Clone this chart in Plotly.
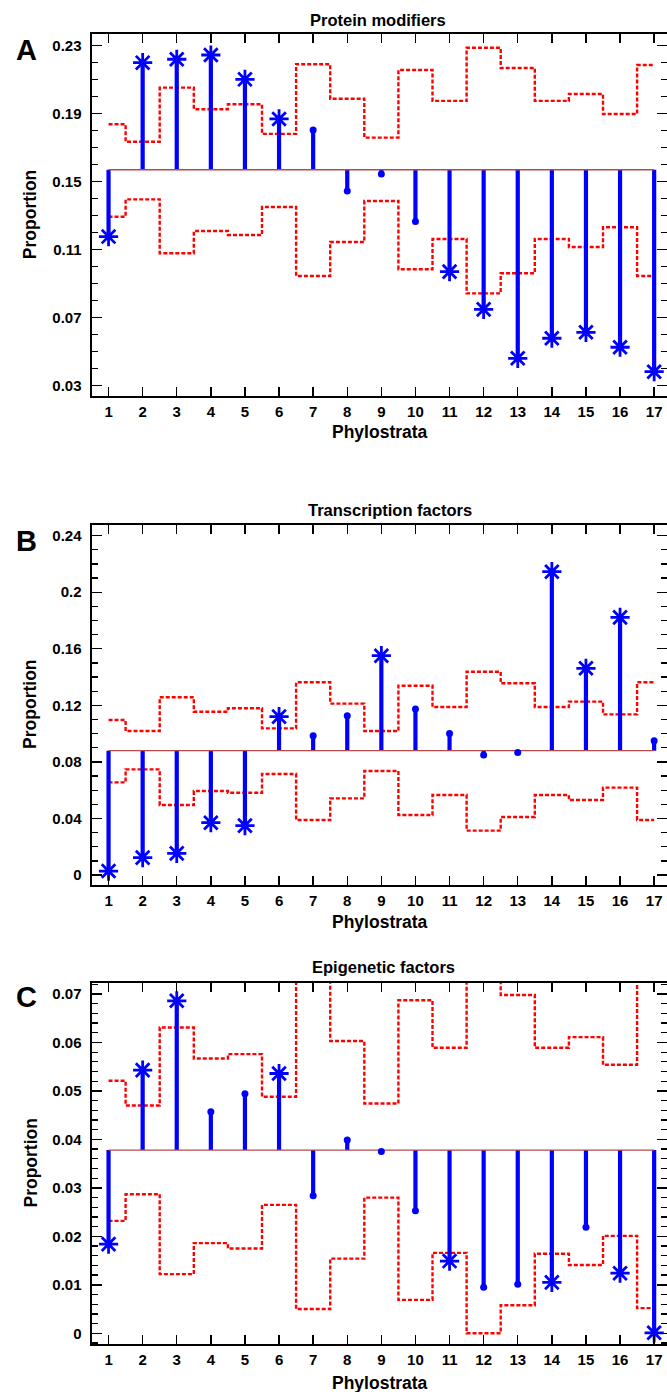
import plotly.graph_objects as go

# ---------------- data ----------------
phylostrata = list(range(1, 18))
x_tick_labels = [str(i) for i in phylostrata]

# Panel A - Protein modifiers
pm_title = "Protein modifiers"
pm_baseline = 0.157
pm_values = [0.1177, 0.2200, 0.2220, 0.2245, 0.2102, 0.1869, 0.1804, 0.1445, 0.1545,
             0.1265, 0.0971, 0.0749, 0.0461, 0.0579, 0.0614, 0.0526, 0.0382]
pm_upper = [0.1838, 0.1735, 0.2053, 0.1926, 0.1955, 0.1781, 0.2191, 0.1988, 0.1759,
            0.2157, 0.1975, 0.2288, 0.2169, 0.1975, 0.2016, 0.1898, 0.2186]
pm_lower = [0.1294, 0.1396, 0.1079, 0.1210, 0.1186, 0.1351, 0.0945, 0.1145, 0.1386,
            0.0985, 0.1163, 0.0843, 0.0961, 0.1163, 0.1116, 0.1232, 0.0945]
pm_yticks = [0.03, 0.07, 0.11, 0.15, 0.19, 0.23]
pm_yticklabels = ["0.03", "0.07", "0.11", "0.15", "0.19", "0.23"]

# Panel B - Transcription factors
tf_title = "Transcription factors"
tf_baseline = 0.0879
tf_values = [0.0028, 0.0123, 0.0153, 0.0370, 0.0349, 0.1120, 0.0985, 0.1127, 0.1551,
             0.1174, 0.1000, 0.0849, 0.0866, 0.2145, 0.1462, 0.1822, 0.0950]
tf_upper = [0.1096, 0.1018, 0.1257, 0.1155, 0.1179, 0.1037, 0.1363, 0.1212, 0.1018,
            0.1339, 0.1188, 0.1438, 0.1356, 0.1188, 0.1226, 0.1136, 0.1363]
tf_lower = [0.0655, 0.0747, 0.0495, 0.0594, 0.0582, 0.0714, 0.0389, 0.0542, 0.0736,
            0.0424, 0.0566, 0.0314, 0.0410, 0.0566, 0.0530, 0.0618, 0.0389]
tf_yticks = [0, 0.04, 0.08, 0.12, 0.16, 0.2, 0.24]
tf_yticklabels = ["0", "0.04", "0.08", "0.12", "0.16", "0.2", "0.24"]

# Panel C - Epigenetic factors
ep_title = "Epigenetic factors"
ep_baseline = 0.0378
ep_values = [0.0184, 0.0543, 0.0686, 0.0457, 0.0494, 0.0536, 0.0284, 0.0399, 0.0375,
             0.0253, 0.0149, 0.0095, 0.0101, 0.0105, 0.0219, 0.0124, 0.0001]
ep_upper = [0.0521, 0.0470, 0.0631, 0.0567, 0.0576, 0.0488, 0.0800, 0.0603, 0.0474,
            0.0687, 0.0589, 0.0800, 0.0698, 0.0589, 0.0611, 0.0554, 0.0800]
ep_lower = [0.0232, 0.0287, 0.0122, 0.0186, 0.0175, 0.0265, 0.0050, 0.0154, 0.0280,
            0.0069, 0.0166, 0.0000, 0.0058, 0.0164, 0.0141, 0.0201, 0.0052]
ep_yticks = [0, 0.01, 0.02, 0.03, 0.04, 0.05, 0.06, 0.07]
ep_yticklabels = ["0", "0.01", "0.02", "0.03", "0.04", "0.05", "0.06", "0.07"]

# ---------------- styling ----------------
W, H = 667, 1392
FONT = "Liberation Sans, Arial, sans-serif"
BLUE = "#0000FF"
RED = "#FF0000"
BASE = "#B24A4A"

panels = [
    dict(title=pm_title, letter="A", base=pm_baseline, vals=pm_values, up=pm_upper, lo=pm_lower,
         yt=pm_yticks, ytl=pm_yticklabels, yrange=[0.02392, 0.23669], minor=0.01, minor0=0.03,
         top=34.3, bottom=396.0, title_x=378, title_y=20, xlab_y=432, letter_y=49.7),
    dict(title=tf_title, letter="B", base=tf_baseline, vals=tf_values, up=tf_upper, lo=tf_lower,
         yt=tf_yticks, ytl=tf_yticklabels, yrange=[-0.00728, 0.2479], minor=0.01, minor0=0.0,
         top=524.5, bottom=885.3, title_x=390, title_y=510, xlab_y=922, letter_y=540.5),
    dict(title=ep_title, letter="C", base=ep_baseline, vals=ep_values, up=ep_upper, lo=ep_lower,
         yt=ep_yticks, ytl=ep_yticklabels, yrange=[-0.00227, 0.07233], minor=0.002, minor0=0.0,
         top=982.7, bottom=1344.3, title_x=383, title_y=967, xlab_y=1383, letter_y=997.5),
]

LEFT = 91.5
XRANGE = [0.5, 0.5 + (W - LEFT) / 34.1]

fig = go.Figure()
layout = dict(width=W, height=H, margin=dict(l=0, r=0, t=0, b=0),
              paper_bgcolor="white", plot_bgcolor="white", showlegend=False,
              font=dict(family=FONT, color="black"))
annotations = []

for i, p in enumerate(panels):
    n = i + 1
    xa = "x" if n == 1 else f"x{n}"
    ya = "y" if n == 1 else f"y{n}"
    yr = f"y{n + 3}"
    dom_y = [1 - p["bottom"] / H, 1 - p["top"] / H]

    # bounds (dashed red steps)
    for bound in (p["up"], p["lo"]):
        fig.add_trace(go.Scatter(x=phylostrata, y=bound, mode="lines", xaxis=xa, yaxis=ya,
                                 line=dict(color=RED, width=2.4, dash="4px,2px", shape="hvh"),
                                 hoverinfo="skip"))
    # stems
    sx, sy = [], []
    for xv, v in zip(phylostrata, p["vals"]):
        sx += [xv, xv, None]
        sy += [p["base"], v, None]
    fig.add_trace(go.Scatter(x=sx, y=sy, mode="lines", xaxis=xa, yaxis=ya,
                             line=dict(color=BLUE, width=4.2), hoverinfo="skip"))
    # baseline
    fig.add_trace(go.Scatter(x=[phylostrata[0], phylostrata[-1]], y=[p["base"], p["base"]],
                             mode="lines", xaxis=xa, yaxis=ya,
                             line=dict(color=BASE, width=1.3), hoverinfo="skip"))
    # markers
    sig_x, sig_y, ns_x, ns_y = [], [], [], []
    for xv, v, u, l in zip(phylostrata, p["vals"], p["up"], p["lo"]):
        if v > u or v < l:
            sig_x.append(xv); sig_y.append(v)
        else:
            ns_x.append(xv); ns_y.append(v)
    fig.add_trace(go.Scatter(x=ns_x, y=ns_y, mode="markers", xaxis=xa, yaxis=ya,
                             marker=dict(symbol="circle", size=7, color=BLUE), hoverinfo="skip"))
    fig.add_trace(go.Scatter(x=sig_x, y=sig_y, mode="markers", xaxis=xa, yaxis=ya,
                             marker=dict(symbol="asterisk-open", size=16, color=BLUE,
                                         line=dict(color=BLUE, width=2.8)),
                             hoverinfo="skip", cliponaxis=False))
    # invisible trace for right-hand tick axis
    fig.add_trace(go.Scatter(x=[phylostrata[0]], y=[p["base"]], mode="markers", xaxis=xa, yaxis=yr,
                             marker=dict(size=1, opacity=0), hoverinfo="skip"))

    tickfont = dict(family=FONT, size=15, color="black", weight="bold")
    minor = dict(ticks="inside", ticklen=6, tickwidth=1.3, tickcolor="black",
                 tick0=p["minor0"], dtick=p["minor"], showgrid=False)
    layout["xaxis" if n == 1 else f"xaxis{n}"] = dict(
        domain=[LEFT / W, 1], anchor=ya, range=XRANGE, tickmode="array",
        tickvals=phylostrata, ticktext=x_tick_labels, ticks="inside", ticklen=9,
        tickwidth=1.4, tickcolor="black", showline=True, linewidth=2, linecolor="black",
        mirror="ticks", showgrid=False, zeroline=False, tickfont=tickfont,
        ticklabelstandoff=1)
    layout["yaxis" if n == 1 else f"yaxis{n}"] = dict(
        domain=dom_y, anchor=xa, range=p["yrange"], tickmode="array",
        tickvals=p["yt"], ticktext=p["ytl"], ticks="inside", ticklen=10, tickwidth=1.4,
        tickcolor="black", showline=True, linewidth=2, linecolor="black", mirror=False,
        showgrid=False, zeroline=False, tickfont=tickfont, minor=minor,
        ticklabelstandoff=5)
    layout[f"yaxis{n + 3}"] = dict(
        overlaying=ya, side="right", anchor=xa, range=p["yrange"], tickmode="array",
        tickvals=p["yt"], ticks="inside", ticklen=10, tickwidth=1.4, tickcolor="black",
        showline=False, showgrid=False, zeroline=False, showticklabels=False, minor=minor)

    # texts
    annotations.append(dict(text=f"<b>{p['title']}</b>", x=p["title_x"] / W, y=1 - p["title_y"] / H,
                            xref="paper", yref="paper", showarrow=False, xanchor="center",
                            yanchor="middle", font=dict(family=FONT, size=16.5, color="black")))
    annotations.append(dict(text="<b>Phylostrata</b>", x=380 / W, y=1 - p["xlab_y"] / H,
                            xref="paper", yref="paper", showarrow=False, xanchor="center",
                            yanchor="middle", font=dict(family=FONT, size=17.5, color="black")))
    annotations.append(dict(text="<b>Proportion</b>", x=30 / W,
                            y=1 - ((p["top"] + p["bottom"]) / 2) / H, textangle=-90,
                            xref="paper", yref="paper", showarrow=False, xanchor="center",
                            yanchor="middle", font=dict(family=FONT, size=17.5, color="black")))
    annotations.append(dict(text=f"<b>{p['letter']}</b>", x=26.5 / W, y=1 - p["letter_y"] / H,
                            xref="paper", yref="paper", showarrow=False, xanchor="center",
                            yanchor="middle", font=dict(family=FONT, size=29, color="black")))

layout["annotations"] = annotations
fig.update_layout(**layout)
fig.write_html(
    "out.html",
    config={"displayModeBar": False, "staticPlot": True},
    post_script="document.body.style.margin='0';document.body.style.padding='0';"
                "document.documentElement.style.overflow='hidden';"
                "document.body.style.overflow='hidden';",
)
